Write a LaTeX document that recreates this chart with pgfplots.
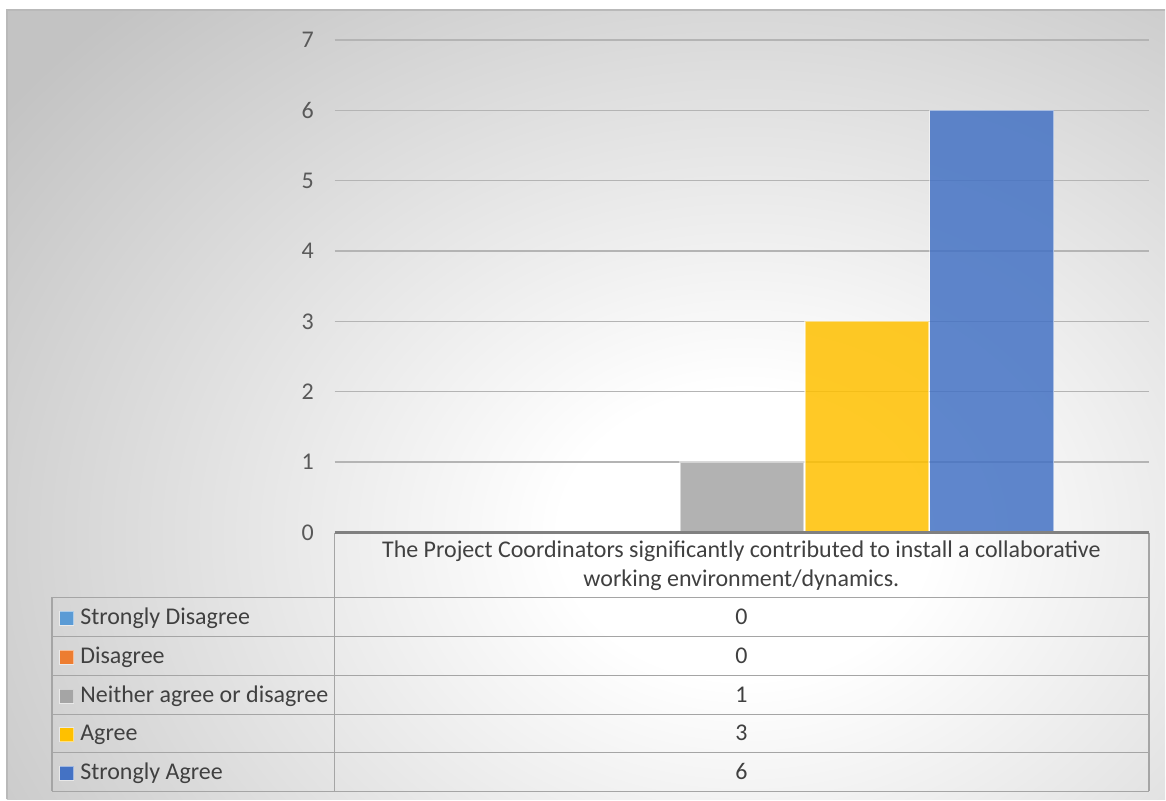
\documentclass[border=0pt]{standalone}
\usepackage{pgfplots}
\pgfplotsset{compat=1.18}
\usepackage{fontspec}
\setmainfont{Carlito}
\definecolor{txt}{RGB}{64,64,64}
\definecolor{tick}{RGB}{89,89,89}
\definecolor{bgg}{RGB}{195,195,195}
\definecolor{gridc}{RGB}{180,180,180}
\definecolor{tabl}{RGB}{165,165,165}
\definecolor{axl}{RGB}{128,128,128}
\definecolor{brd}{RGB}{185,185,185}
\definecolor{cSD}{RGB}{91,155,213}
\definecolor{cD}{RGB}{237,125,49}
\definecolor{cN}{RGB}{165,165,165}
\definecolor{cA}{RGB}{255,192,0}
\definecolor{cSA}{RGB}{68,114,196}
\pgfdeclareradialshading{excelbg}{\pgfpoint{0bp}{0bp}}{color(0bp)=(white); color(5bp)=(white); color(25bp)=(bgg); color(50bp)=(bgg)}
\def\vSD{0}
\def\vD{0}
\def\vN{1}
\def\vA{3}
\def\vSA{6}
\begin{document}
\begin{tikzpicture}
\begin{scope}[x=0.5pt,y=0.5pt]
\fill[white] (0,0) rectangle (1166,800);
\begin{scope}
\clip (7,0) rectangle (1166,790);
\fill[bgg] (7,0) rectangle (1166,790);
\shade[shading=excelbg] (745,265) ellipse (920 and 720);
\end{scope}
\draw[brd, line width=1pt] (7,0) -- (7,790) -- (1166,790);
\end{scope}
\begin{axis}[
  at={(167.5pt,133.5pt)}, anchor=south west,
  scale only axis, width=407.5pt, height=246.5pt,
  xmin=-0.5, xmax=0.5, ymin=0, ymax=7,
  ytick={0,1,...,7}, xtick=\empty,
  axis line style={draw=none},
  major tick length=0pt,
  ymajorgrids, grid style={gridc, line width=0.7pt},
  /pgf/number format/assume math mode=true,
  yticklabel style={font=\fontsize{12}{14.6}\selectfont, text=tick, xshift=-7pt},
  ybar=0.5pt, bar width=62pt,
  clip=false,
]
\addplot[fill=cSD, draw=none, fill opacity=0.85] coordinates {(0,\vSD)};
\addplot[fill=cD, draw=none, fill opacity=0.85] coordinates {(0,\vD)};
\addplot[fill=cN, fill opacity=0.85, draw=white, draw opacity=0.5, line width=0.75pt] coordinates {(0,\vN)};
\addplot[fill=cA, fill opacity=0.85, draw=white, draw opacity=0.5, line width=0.75pt] coordinates {(0,\vA)};
\addplot[fill=cSA, fill opacity=0.85, draw=white, draw opacity=0.5, line width=0.75pt] coordinates {(0,\vSA)};
\end{axis}
\begin{scope}[x=0.5pt,y=0.5pt, font=\fontsize{12}{14.6}\selectfont, text=txt]
% table lines
\draw[tabl, line width=0.75pt] (335,267) -- (335,8);
\draw[tabl, line width=0.75pt] (1150,267) -- (1150,8);
\draw[tabl, line width=0.75pt] (52,202) -- (52,8);
\foreach \yy in {202,163,124,85,47,8} {
  \draw[tabl, line width=0.75pt] (52,\yy) -- (1150,\yy);
}
\draw[axl, line width=1.1pt] (335,267) -- (1150,267);
% header
\node[anchor=base] at (742,242) {The Project Coordinators significantly contributed to install a collaborative};
\node[anchor=base] at (742,213) {working environment/dynamics.};
% rows
\foreach \yb/\lab/\col/\val in {175/Strongly Disagree/cSD/\vSD, 136/Disagree/cD/\vD, 97/Neither agree or disagree/cN/\vN, 58.5/Agree/cA/\vA, 20/Strongly Agree/cSA/\vSA} {
  \fill[\col, draw=white, draw opacity=0.5, line width=0.5pt] (60,\yb-1) rectangle (74,\yb+13);
  \node[anchor=base west, inner sep=0pt] at (80,\yb) {\lab};
  \node[anchor=base, inner sep=0pt] at (742,\yb) {\val};
}
\end{scope}
\end{tikzpicture}
\end{document}
